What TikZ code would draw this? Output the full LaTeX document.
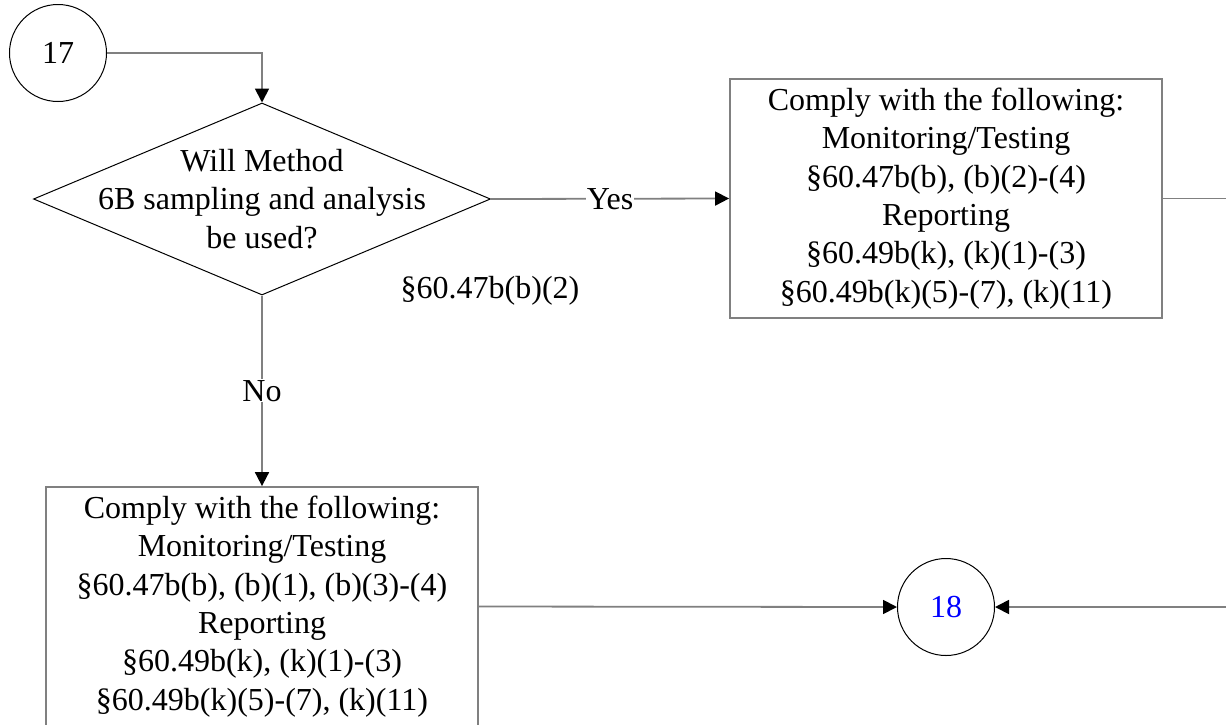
\documentclass[tikz,border=0pt]{standalone}
\usepackage{fontspec}
\setmainfont{Liberation Serif}
\usetikzlibrary{shapes.geometric,arrows.meta}
\definecolor{linegray}{RGB}{128,128,128}
\definecolor{refblue}{RGB}{0,0,255}
\begin{document}
\begin{tikzpicture}[x=1pt,y=-1pt,font=\fontsize{32pt}{38.3pt}\selectfont,
connector/.style = {draw=linegray, line width=1.8pt, -{Triangle[length=14pt,width=14pt,color=black,fill=black]}},
ring/.style = {draw, circle, line width=1pt, minimum size=97pt, inner sep=0pt},
decision/.style = {draw, diamond, line width=1pt, minimum width=457pt, minimum height=192pt, inner sep=0pt},
block/.style = {draw=linegray, line width=1.8pt, minimum width=432pt, minimum height=239pt, align=center, inner sep=0pt},
onlabel/.style = {fill=white, inner sep=1pt},]
\clip (0,0) rectangle (1226,724);
\node (c17) at (58,53)[ring] {17};
\node (q) at (262,199)[decision] {};
\node (qtext) at (q)[align=center] {Will Method\\6B sampling and analysis\\be used?};
\node (ref) at (490,291) {§60.47b(b)(2)};
\node (yesbox) at (946,198.5)[block] {Comply with the following:\\Monitoring/Testing\\§60.47b(b), (b)(2)-(4)\\Reporting\\§60.49b(k), (k)(1)-(3)\\§60.49b(k)(5)-(7), (k)(11)};
\node (nobox) at (262,606.5)[block] {Comply with the following:\\Monitoring/Testing\\§60.47b(b), (b)(1), (b)(3)-(4)\\Reporting\\§60.49b(k), (k)(1)-(3)\\§60.49b(k)(5)-(7), (k)(11)};
\node (c18) at (946,607)[ring,text=refblue] {18};
\draw[connector] (c17.east) -| (q.north);
\draw[connector] (q.east) -- node[onlabel]{Yes} (yesbox.west);
\draw[connector] (q.south) -- node[onlabel]{No} (nobox.north);
\draw[connector] (nobox.east) -- (c18.west);
\draw[connector] (yesbox.east) -- ++(80,0) |- (c18.east);
\end{tikzpicture}
\end{document}
